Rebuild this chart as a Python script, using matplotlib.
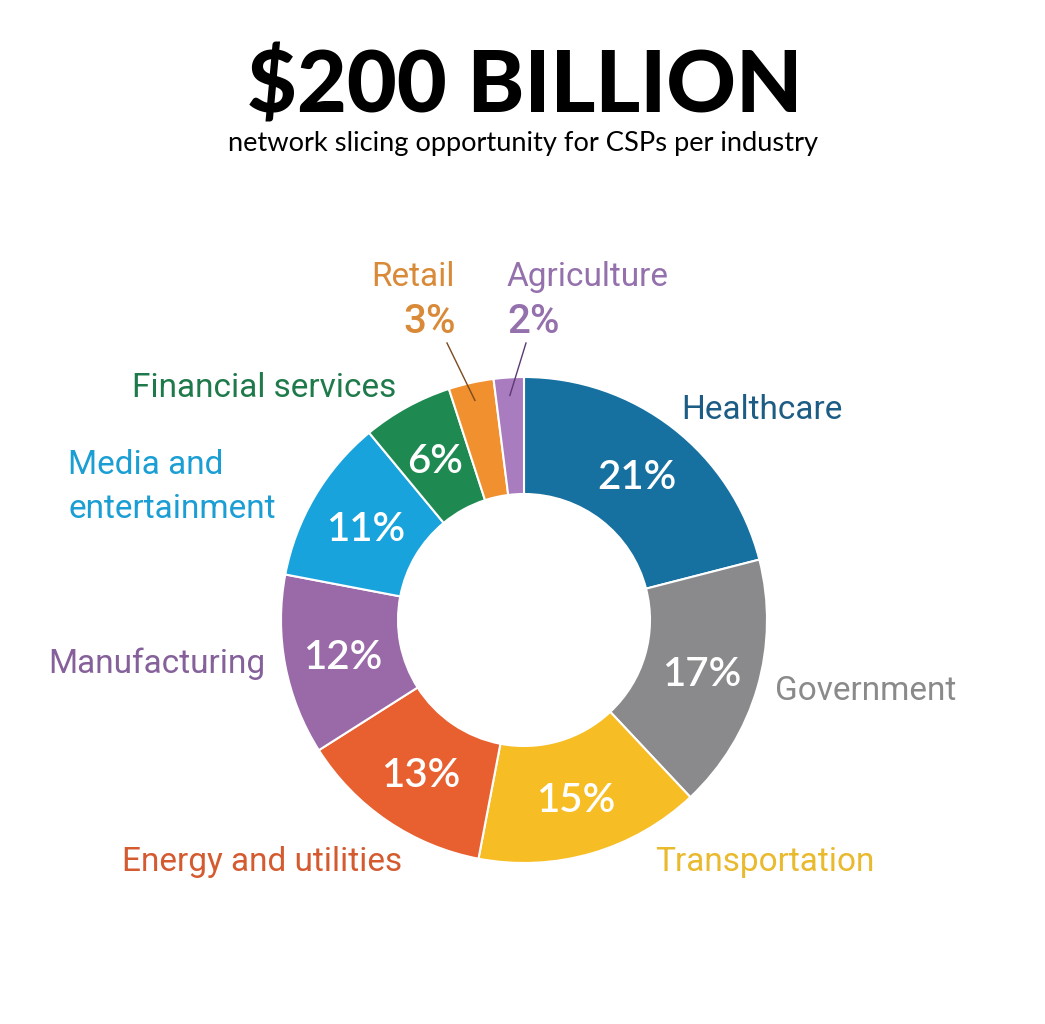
import matplotlib
matplotlib.use("Agg")
import matplotlib.pyplot as plt
import numpy as np

# ---- data ----
categories = ["Healthcare", "Government", "Transportation", "Energy and utilities",
              "Manufacturing", "Media and\nentertainment", "Financial services",
              "Retail", "Agriculture"]
shares = [21, 17, 15, 13, 12, 11, 6, 3, 2]
pct_labels = ["21%", "17%", "15%", "13%", "12%", "11%", "6%", "3%", "2%"]
title = "$200 BILLION"
subtitle = "network slicing opportunity for CSPs per industry"

slice_colors = ["#1670a0", "#8a8a8c", "#f7bd24", "#e85f30", "#9a6aa8",
                "#19a3dc", "#1e8a52", "#f0902e", "#a97cc0"]
text_colors = ["#1d5d85", "#8a8a8a", "#e9b92e", "#d45a30", "#85609a",
               "#1a9ed4", "#1f7a4b", "#d98a38", "#9470ac"]

W, H = 1045, 1024
fig = plt.figure(figsize=(W / 100, H / 100), dpi=100)
ax = fig.add_axes([0, 0, 1, 1])

cx, cy = 524, H - 620
R = 243
ring = 117

wedges, _ = ax.pie(shares, colors=slice_colors, startangle=90, counterclock=False,
                   radius=R, center=(cx, cy), frame=True,
                   wedgeprops=dict(width=ring, edgecolor="white", linewidth=1.5))
ax.set_xlim(0, W)
ax.set_ylim(0, H)
ax.axis("off")

# percent labels inside the ring (except the two tiny slices)
rmid = R - ring / 2
for w, lab, s in zip(wedges, pct_labels, shares):
    if s < 5:
        continue
    ang = np.deg2rad((w.theta1 + w.theta2) / 2)
    ax.text(cx + rmid * np.cos(ang), cy + rmid * np.sin(ang) - 3, lab,
            color="white", fontsize=29, fontfamily="Lato", fontweight="semibold",
            ha="center", va="center")

# titles
ax.text(525, H - 88, title, fontsize=62, fontfamily="Lato", fontweight="black",
        ha="center", va="center", color="black")
ax.text(523, H - 143, subtitle, fontsize=19.6, fontfamily="Lato",
        ha="center", va="center", color="black")

# category labels
lab_fs = 24
lf = "Roboto"
lw = "normal"
pos = {
    "Healthcare": (681, 410, "left"),
    "Government": (775, 691, "left"),
    "Transportation": (655, 862, "left"),
    "Energy and utilities": (402, 862, "right"),
    "Manufacturing": (265, 664, "right"),
    "Financial services": (396, 388, "right"),
}
for cat, col in zip(categories, text_colors):
    if cat in pos:
        x, y, ha = pos[cat]
        ax.text(x, H - y, cat, fontsize=lab_fs, fontfamily=lf, fontweight=lw,
                color=col, ha=ha, va="center")

# media label (two lines, left aligned)
ax.text(68, H - 465, "Media and", fontsize=lab_fs, fontfamily=lf, fontweight=lw,
        color=text_colors[5], ha="left", va="center")
ax.text(68, H - 509, "entertainment", fontsize=lab_fs, fontfamily=lf, fontweight=lw,
        color=text_colors[5], ha="left", va="center")

# retail / agriculture callouts
ax.text(455, H - 277, categories[7], fontsize=lab_fs, fontfamily=lf, fontweight=lw,
        color=text_colors[7], ha="right", va="center")
ax.text(456, H - 322, pct_labels[7], fontsize=29, fontfamily=lf, fontweight="medium",
        color=text_colors[7], ha="right", va="center")
ax.text(507, H - 277, categories[8], fontsize=lab_fs, fontfamily=lf, fontweight=lw,
        color=text_colors[8], ha="left", va="center")
ax.text(507, H - 322, pct_labels[8], fontsize=29, fontfamily=lf, fontweight="medium",
        color=text_colors[8], ha="left", va="center")

# leader lines into the small slices
for w, (x0, y0), col in [(wedges[7], (447, 343), "#7a4a20"), (wedges[8], (526, 343), "#5a3a70")]:
    ang = np.deg2rad((w.theta1 + w.theta2) / 2)
    r_end = R - 18
    ax.plot([x0, cx + r_end * np.cos(ang)], [H - y0, cy + r_end * np.sin(ang)],
            color=col, linewidth=1.0)

fig.savefig("out.png", dpi=100, facecolor="white")
